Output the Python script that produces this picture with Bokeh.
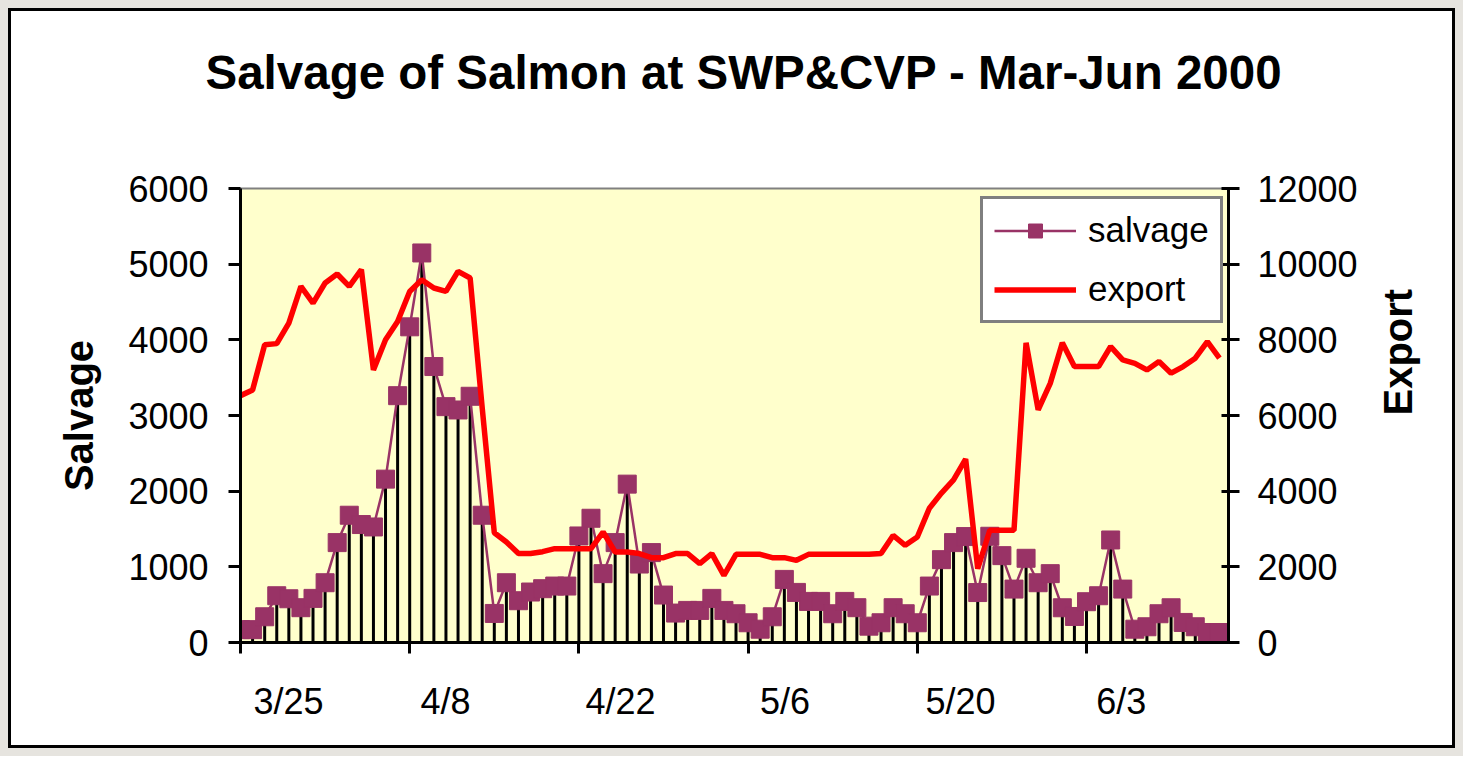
import math
from datetime import date, timedelta

from bokeh.plotting import figure
from bokeh.models import (Range1d, LinearAxis, FixedTicker, Title, Legend,
                          LegendItem, ColumnDataSource)
from bokeh.embed import file_html
from bokeh.resources import INLINE

# ---------------- data ----------------
START = date(2000, 3, 25)

salvage = [170, 170, 340, 618, 578, 460, 583, 790, 1320, 1682,
           1559, 1527, 2159, 3262, 4172, 5148, 3647, 3117, 3073, 3254,
           1682, 384, 790, 552, 667, 711, 746, 746, 1408, 1642,
           910, 1320, 2093, 1037, 1188, 627, 389, 424, 424, 583,
           424, 380, 261, 176, 340, 834, 662, 543, 543, 380,
           543, 460, 216, 261, 460, 380, 261, 746, 1095, 1320,
           1400, 660, 1404, 1148, 706, 1113, 790, 910, 459, 344,
           539, 618, 1355, 706, 176, 208, 380, 459, 265, 208,
           132, 132]

export = [6525, 6675, 7868, 7900, 8442, 9413, 8972, 9502, 9740, 9413,
          9854, 7205, 8000, 8485, 9280, 9590, 9370, 9280, 9810, 9635,
          6200, 2900, 2657, 2350, 2350, 2400, 2480, 2480, 2480, 2480,
          2920, 2392, 2392, 2350, 2243, 2243, 2350, 2350, 2085, 2350,
          1775, 2330, 2330, 2330, 2243, 2243, 2172, 2330, 2330, 2330,
          2330, 2330, 2330, 2350, 2830, 2570, 2790, 3550, 3950, 4300,
          4850, 1950, 2967, 2967, 2967, 7920, 6150, 6850, 7920, 7293,
          7293, 7293, 7823, 7470, 7380, 7205, 7425, 7118, 7293, 7515,
          7955, 7515]

dates = [START + timedelta(days=i) for i in range(len(salvage))]
tick_labels = ["3/25", "4/8", "4/22", "5/6", "5/20", "6/3"]

salvage_ticks = [0, 1000, 2000, 3000, 4000, 5000, 6000]
export_ticks = [0, 2000, 4000, 6000, 8000, 10000, 12000]

TITLE = "Salvage of Salmon at SWP&CVP - Mar-Jun 2000"

# ---------------- derived positions ----------------
xs = [(d - START).days for d in dates]
tick_days = []
for t in tick_labels:
    m, d = t.split("/")
    tick_days.append((date(2000, int(m), int(d)) - START).days)

# label placement (style): labels sit a little right of their tick marks
LABEL_SHIFT = [3.97, 2.96, 3.44, 3.05, 3.57, 2.87]
label_pos = [td + s for td, s in zip(tick_days, LABEL_SHIFT)]

src = ColumnDataSource(dict(x=xs, salvage=salvage, export=export,
                            zero=[0] * len(xs)))

FONT = "Liberation Sans"
PLUM = "#993366"

p = figure(width=1447, height=740,
           x_range=Range1d(0, 81.75), y_range=Range1d(0, 6000),
           output_backend="svg", toolbar_location=None, title=None,
           min_border_left=229, min_border_right=230,
           min_border_top=177, min_border_bottom=109,
           background_fill_color="#FFFFCC", border_fill_color="white",
           outline_line_color="#808080", outline_line_width=2)
p.extra_y_ranges = {"export": Range1d(0, 12000)}
p.xgrid.visible = False
p.ygrid.visible = False
p.styles = {"border": "3px solid black", "margin": "8px 8px 0px 8px",
            "box-shadow": "0 0 0 8px #e6e4df"}

# ---- glyphs ----
p.segment(x0="x", y0="zero", x1="x", y1="salvage", source=src,
          line_color="black", line_width=3)
sl = p.line("x", "salvage", source=src, line_color=PLUM, line_width=2.5)
sm = p.scatter("x", "salvage", source=src, marker="square", size=18,
               fill_color=PLUM, line_color=PLUM)
el = p.line("x", "export", source=src, y_range_name="export",
            line_color="#FF0000", line_width=5.5)

# ---- x axes ----
xa = p.xaxis[0]
xa.ticker = FixedTicker(ticks=tick_days)
xa.major_label_overrides = {td: "" for td in tick_days}
xa.major_label_text_font_size = "1px"
xa.major_label_standoff = 0
xa.axis_line_width = 3
xa.axis_line_color = "black"
xa.major_tick_line_width = 3
xa.major_tick_in = 0
xa.major_tick_out = 11
xa.minor_tick_line_color = None

xb = LinearAxis(ticker=FixedTicker(ticks=label_pos),
                major_label_overrides={lp: t for lp, t in zip(label_pos, tick_labels)},
                axis_line_color=None, major_tick_line_color=None,
                minor_tick_line_color=None,
                major_label_text_font_size="36px",
                major_label_text_font=FONT,
                major_label_text_color="black",
                major_label_standoff=21)
p.add_layout(xb, "below")

# ---- left axis ----
ya = p.yaxis[0]
ya.ticker = FixedTicker(ticks=salvage_ticks)
ya.axis_line_width = 3
ya.axis_line_color = "black"
ya.major_tick_line_width = 3
ya.major_tick_in = 0
ya.major_tick_out = 12
ya.minor_tick_line_color = None
ya.major_label_text_font_size = "36px"
ya.major_label_text_font = FONT
ya.major_label_text_color = "black"
ya.major_label_standoff = 20
ya.axis_label = "Salvage"
ya.axis_label_text_font = FONT
ya.axis_label_text_font_size = "40px"
ya.axis_label_text_font_style = "bold"
ya.axis_label_text_color = "black"
ya.axis_label_standoff = 24

# ---- right axis ----
yr = LinearAxis(y_range_name="export", ticker=FixedTicker(ticks=export_ticks),
                axis_line_width=3, axis_line_color="black",
                major_tick_line_width=3, major_tick_in=7, major_tick_out=11,
                minor_tick_line_color=None,
                major_label_text_font_size="36px", major_label_text_font=FONT,
                major_label_text_color="black", major_label_standoff=18,
                axis_label="Export", axis_label_text_font=FONT,
                axis_label_text_font_size="40px",
                axis_label_text_font_style="bold",
                axis_label_text_color="black", axis_label_standoff=37,
                axis_label_orientation=math.pi / 2)
p.add_layout(yr, "right")

# ---- invisible spacer (closest to the frame), then the real title ----
spacer = Title(text=".", text_color="white", text_font_size="105px", standoff=10)
p.add_layout(spacer, "above")
title = Title(text=TITLE, align="left", offset=-35,
              text_font=FONT, text_font_size="47.5px", text_font_style="bold",
              text_color="black")
p.add_layout(title, "above")

# ---- legend ----
legend = Legend(items=[LegendItem(label="salvage", renderers=[sl, sm]),
                       LegendItem(label="export", renderers=[el])],
                location=(740, 319), margin=0, padding=11, spacing=19,
                glyph_width=82, glyph_height=35, label_height=35,
                label_standoff=12,
                label_text_font=FONT, label_text_font_size="35px",
                label_text_color="black",
                border_line_color="black", border_line_width=3,
                background_fill_color="white", background_fill_alpha=1)
p.add_layout(legend)

open("out.html", "w").write(file_html(p, INLINE))
